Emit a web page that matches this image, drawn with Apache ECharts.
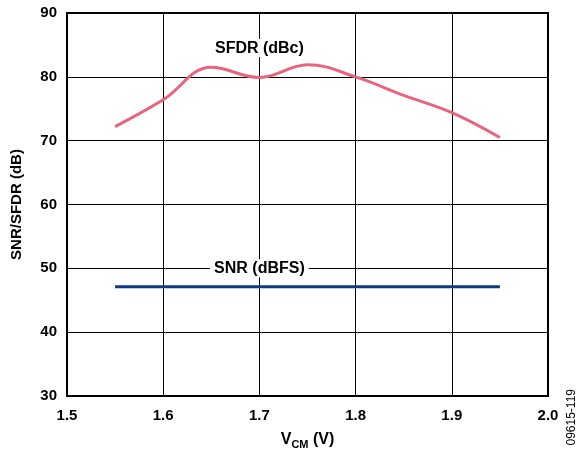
<!DOCTYPE html>
<html>
<head>
<meta charset="utf-8">
<script src="https://cdn.jsdelivr.net/npm/echarts@6/dist/echarts.min.js"></script>
<style>html,body{margin:0;padding:0;background:#fff}#c{width:581px;height:452px}</style>
</head>
<body>
<div id="c"></div>
<script>
var vcm = [1.55, 1.60, 1.65, 1.70, 1.75, 1.80, 1.85, 1.90, 1.95];
var sfdr = [72.2, 76.4, 81.5, 79.9, 81.9, 80.0, 77.1, 74.4, 70.5];
var snr = [47.1, 47.1, 47.1, 47.1, 47.1, 47.1, 47.1, 47.1, 47.1];
var xTicks = ['1.5', '1.6', '1.7', '1.8', '1.9', '2.0'];
var yTicks = [30, 40, 50, 60, 70, 80, 90];

var chart = echarts.init(document.getElementById('c'));
var font = 'Liberation Sans, Arial, sans-serif';
var lbl = {
  show: true, fontFamily: font, fontWeight: 'bold', fontSize: 16, color: '#000',
  backgroundColor: '#fff', padding: [1, 4, 1, 4]
};
chart.setOption({
  animation: false,
  grid: { left: 67, right: 33, top: 13, bottom: 56, containLabel: false, outerBoundsMode: 'none',
    show: true, borderColor: '#000', borderWidth: 2, backgroundColor: 'transparent' },
  xAxis: {
    type: 'value', min: 1.5, max: 2.0, interval: 0.1,
    axisLine: { show: true, lineStyle: { color: '#000', width: 2 } },
    axisTick: { show: false },
    splitLine: { show: true, lineStyle: { color: '#000', width: 1 } },
    axisLabel: { margin: 12, fontFamily: font, fontWeight: 'bold', fontSize: 15, color: '#000',
      formatter: function (v) { return xTicks[Math.round((v - 1.5) * 10)]; } },
    name: '{v|V}{s|CM}{v| (V)}', nameLocation: 'middle', nameGap: 34,
    nameTextStyle: { rich: {
      v: { fontFamily: font, fontWeight: 'bold', fontSize: 16, color: '#000' },
      s: { fontFamily: font, fontWeight: 'bold', fontSize: 11, color: '#000', padding: [9, 0, 0, 0] }
    } }
  },
  yAxis: {
    type: 'value', min: yTicks[0], max: yTicks[yTicks.length - 1], interval: 10,
    axisLine: { show: true, lineStyle: { color: '#000', width: 2 } },
    axisTick: { show: false },
    splitLine: { show: true, lineStyle: { color: '#000', width: 1 } },
    axisLabel: { margin: 10, fontFamily: font, fontWeight: 'bold', fontSize: 15, color: '#000' },
    name: 'SNR/SFDR (dB)', nameLocation: 'middle', nameGap: 43,
    nameTextStyle: { fontFamily: font, fontWeight: 'bold', fontSize: 15, color: '#000' }
  },
  series: [
    {
      type: 'line', data: vcm.map(function (x, i) { return [x, sfdr[i]]; }),
      smooth: 0.4, symbol: 'none', lineStyle: { color: '#e8647c', width: 3 },
      markPoint: { symbol: 'circle', symbolSize: 0, silent: true,
        data: [{ coord: [1.7, 84.5], label: Object.assign({ formatter: 'SFDR (dBc)', position: 'inside' }, lbl) }] }
    },
    {
      type: 'line', data: vcm.map(function (x, i) { return [x, snr[i]]; }),
      symbol: 'none', lineStyle: { color: '#0d3b82', width: 3 },
      markPoint: { symbol: 'circle', symbolSize: 0, silent: true,
        data: [{ coord: [1.7, 50], label: Object.assign({ formatter: 'SNR (dBFS)', position: 'inside' }, lbl) }] }
    }
  ],
  graphic: [{
    type: 'text', left: 566, top: 389, rotation: Math.PI / 2,
    style: { text: '09615-119', fontFamily: font, fontSize: 12, fill: '#000' }
  }]
});
</script>
</body>
</html>
